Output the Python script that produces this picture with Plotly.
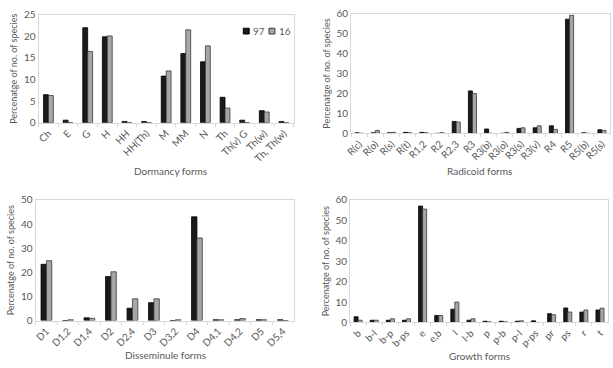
import plotly.graph_objects as go

# ---- data ----
dorm_cats = ["Ch", "E", "G", "H", "HH", "HH(Th)", "M", "MM", "N", "Th", "Th(v) G", "Th(w)", "Th, Th(w)"]
dorm_97 = [6.5, 0.6, 22.0, 19.9, 0.3, 0.3, 10.8, 16.0, 14.1, 5.9, 0.6, 2.8, 0.3]
dorm_16 = [6.3, 0, 16.5, 20.1, 0, 0, 12.0, 21.5, 17.8, 3.4, 0, 2.5, 0]

rad_cats = ["R(c)", "R(o)", "R(s)", "R(t)", "R1,2", "R2", "R2,3", "R3", "R3(b)", "R3(o)",
            "R3(s)", "R3(v)", "R4", "R5", "R5(b)", "R5(s)"]
rad_97 = [0.3, 0.3, 0.3, 0.5, 0.5, 0, 6.0, 21.3, 2.2, 0, 2.5, 2.8, 3.8, 57.3, 0.3, 1.8]
rad_16 = [0, 1.5, 0.5, 0.3, 0.3, 0.3, 5.7, 20.0, 0, 0.5, 2.8, 3.8, 2.0, 59.2, 0, 1.5]

diss_cats = ["D1", "D1,2", "D1,4", "D2", "D2,4", "D3", "D3,2", "D4", "D4,1", "D4,2", "D5", "D5,4"]
diss_97 = [23.3, 0, 1.1, 18.2, 5.1, 7.4, 0, 43.0, 0.3, 0.3, 0.3, 0.3]
diss_16 = [24.8, 0.3, 0.9, 20.2, 9.0, 9.0, 0.3, 34.2, 0.3, 0.8, 0.3, 0]

grow_cats = ["b", "b-l", "b-p", "b-ps", "e", "e,b", "l", "l-b", "p", "p-b", "p-l", "p-ps",
             "pr", "ps", "r", "t"]
grow_97 = [2.8, 1.1, 1.1, 1.1, 57.0, 3.4, 6.5, 1.1, 0.6, 0.6, 0.6, 0.8, 4.3, 7.1, 5.1, 6.1]
grow_16 = [1.1, 1.1, 1.8, 1.8, 55.5, 3.4, 10.0, 1.8, 0.3, 0.3, 0.8, 0, 3.8, 5.1, 6.1, 7.0]

series_names = ["97", "16"]
x_titles = ["Dormancy forms", "Radicoid forms", "Disseminule forms", "Growth forms"]
y_title = "Percenatge of no. of species"
y_ranges = [[0, 25], [0, 60], [0, 50], [0, 60]]
y_dtick = [5, 10, 10, 10]

panels = [
    (dorm_cats, dorm_97, dorm_16),
    (rad_cats, rad_97, rad_16),
    (diss_cats, diss_97, diss_16),
    (grow_cats, grow_97, grow_16),
]

W, H = 613, 368
# plot areas in pixels: (x0, x1, ytop, ybottom)
boxes = [(32, 290, 8, 120), (348, 610, 7, 131), (29, 290, 200, 325), (347, 608, 200, 327)]

FONT = "Lato"
GREY_TXT = "#595959"
c97 = "#1a1a1a"
c16 = "#a6a6a6"
line97 = "#000000"
line16 = "#3a3a3a"

fig = go.Figure()
layout = {}
for i, ((cats, v97, v16), (x0, x1, yt, yb)) in enumerate(zip(panels, boxes)):
    n = "" if i == 0 else str(i + 1)
    xa, ya = "x" + n, "y" + n
    fig.add_trace(go.Bar(x=cats, y=v97, name=series_names[0], xaxis=xa, yaxis=ya,
                         marker=dict(color=c97, line=dict(color=line97, width=0.8)),
                         showlegend=False))
    fig.add_trace(go.Bar(x=cats, y=v16, name=series_names[1], xaxis=xa, yaxis=ya,
                         marker=dict(color=c16, line=dict(color=line16, width=0.8)),
                         showlegend=False))
    layout["xaxis" + n] = dict(
        domain=[x0 / W, x1 / W], anchor=ya, type="category",
        showline=True, mirror=True, linecolor="#d9d9d9", linewidth=1,
        ticks="outside", tickson="boundaries", ticklen=3, tickcolor="#d9d9d9",
        tickangle=-45, tickfont=dict(size=10, color=GREY_TXT, family=FONT),
        showgrid=False, zeroline=False,
    )
    layout["yaxis" + n] = dict(
        domain=[1 - yb / H, 1 - yt / H], anchor=xa,
        range=y_ranges[i], dtick=y_dtick[i],
        showline=True, mirror=True, linecolor="#d9d9d9", linewidth=1,
        showgrid=False, zeroline=False, ticks="",
        tickfont=dict(size=10, color=GREY_TXT, family=FONT),
        title=dict(text=y_title, font=dict(size=9, color=GREY_TXT, family=FONT), standoff=4),
    )

annotations = []
title_pos = [(165, 170), (478, 170), (160, 361), (478, 362)]
for t, (px, py) in zip(x_titles, title_pos):
    annotations.append(dict(text=t, x=px / W, y=1 - py / H, xref="paper", yref="paper",
                            showarrow=False, xanchor="center", yanchor="middle",
                            font=dict(size=10, color=GREY_TXT, family=FONT)))

# compact legend (key squares + labels) in panel 1
shapes = []
legend_x = [239, 265]
for name, col, lc, lx in zip(series_names, [c97, c16], [line97, line16], legend_x):
    shapes.append(dict(type="rect", xref="paper", yref="paper",
                       x0=lx / W, x1=(lx + 6) / W, y0=1 - 28 / H, y1=1 - 22 / H,
                       fillcolor=col, line=dict(color=lc, width=1)))
    annotations.append(dict(text=name, x=(lx + 8) / W, y=1 - 25 / H, xref="paper", yref="paper",
                            showarrow=False, xanchor="left", yanchor="middle",
                            font=dict(size=10, color=GREY_TXT, family=FONT)))

fig.update_layout(
    **layout,
    width=W, height=H,
    margin=dict(l=0, r=0, t=0, b=0),
    paper_bgcolor="white", plot_bgcolor="white",
    barmode="group", bargap=0.5, bargroupgap=0,
    annotations=annotations, shapes=shapes,
    showlegend=False,
    font=dict(family=FONT),
)

fig.write_html("out.html")
